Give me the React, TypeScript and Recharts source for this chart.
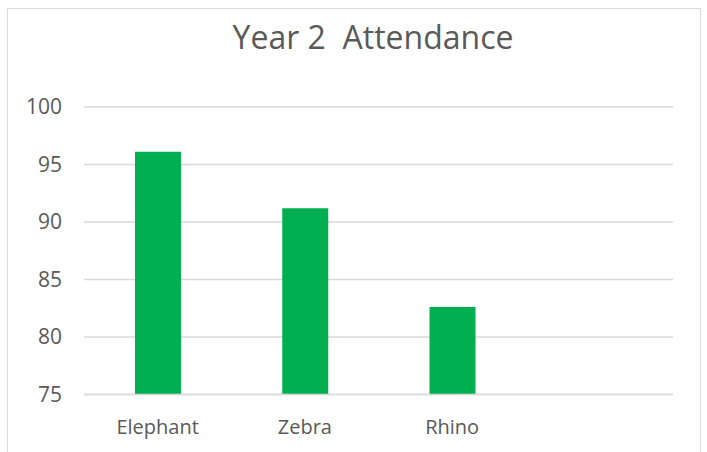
import React from "react";
import { BarChart, Bar, XAxis, YAxis, CartesianGrid } from "recharts";

const categories = ["Elephant", "Zebra", "Rhino", ""];
const attendance = [96.1, 91.2, 82.6, null];
const yTicks = [75, 80, 85, 90, 95, 100];
const title = "Year 2  Attendance";

const data = categories.map((name, i) => ({ name, value: attendance[i] }));

const textColor = "#595959";
const gridColor = "#d9d9d9";
const font = "'Open Sans', sans-serif";

export default function App() {
  return (
    <div style={{ position: "absolute", left: 0, top: 0, width: 707, height: 452, background: "#fff", overflow: "hidden" }}>
      <div
        style={{
          position: "absolute",
          left: 7,
          top: 8,
          width: 694,
          height: 470,
          border: `1.5px solid ${gridColor}`,
          boxSizing: "border-box",
        }}
      />
      <div style={{ position: "absolute", left: 0, top: 0 }}>
        <BarChart
          width={707}
          height={452}
          data={data}
          margin={{ top: 107, right: 34, bottom: 27.5, left: 24 }}
        >
          <text
            x={373}
            y={49}
            textAnchor="middle"
            fill={textColor}
            style={{ fontFamily: font, fontSize: 32, whiteSpace: "pre" }}
          >
            {title}
          </text>
          <CartesianGrid vertical={false} stroke={gridColor} strokeWidth={1.5} />
          <XAxis
            dataKey="name"
            height={30}
            axisLine={{ stroke: gridColor, strokeWidth: 1.5 }}
            tickLine={false}
            tickSize={0}
            tickMargin={25}
            tick={{ fill: textColor, fontSize: 20, fontFamily: font }}
            interval={0}
          />
          <YAxis
            domain={[75, 100]}
            ticks={yTicks}
            width={60}
            axisLine={false}
            tickLine={false}
            tickSize={0}
            tickMargin={22}
            tick={{ fill: textColor, fontSize: 21, fontFamily: font }}
            allowDataOverflow
          />
          <Bar dataKey="value" fill="#00b050" barSize={46} isAnimationActive={false} />
        </BarChart>
      </div>
    </div>
  );
}
